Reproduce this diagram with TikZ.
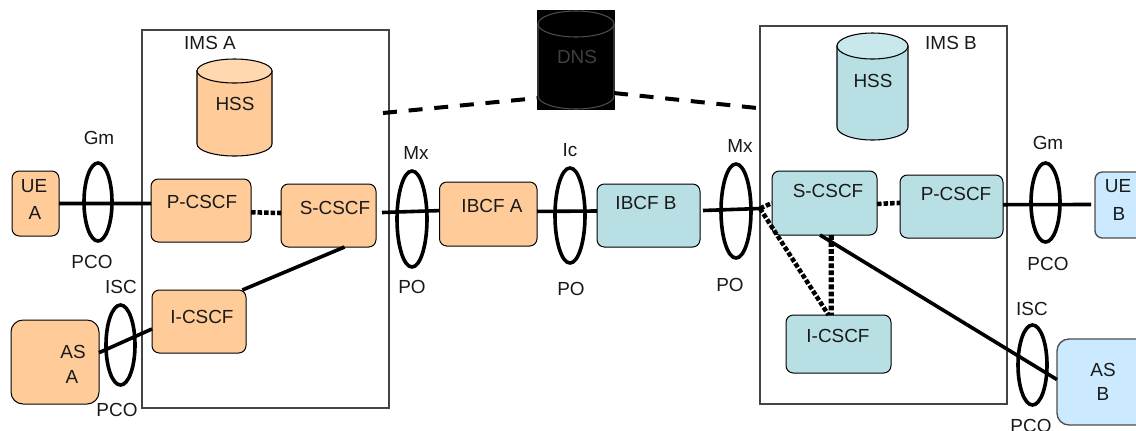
\documentclass[tikz,border=0pt]{standalone}
\usepackage{fontspec}
\setmainfont{Liberation Sans}
\usetikzlibrary{shapes.geometric}
\definecolor{org}{HTML}{FFCC99}
\definecolor{orgtop}{HTML}{FFD8B0}
\definecolor{teal}{HTML}{B8E0E4}
\definecolor{tealtop}{HTML}{C8E8EB}
\definecolor{sky}{HTML}{CCEAFF}
\definecolor{frm}{HTML}{444444}
\tikzset{
  x=0.75pt,y=-0.75pt,
  lbl/.style={font=\fontsize{14.2pt}{16pt}\selectfont,inner sep=0pt,text=black!90},
  rbox/.style={draw=black,line width=0.75pt,rounded corners=5.5pt,inner sep=0pt,outer sep=0pt},
  bigbox/.style={rbox,rounded corners=9pt},
  ims/.style={draw=frm,line width=0.8pt,inner sep=0pt,outer sep=0pt},
  ring/.style={ellipse,draw=black,line width=2.7pt,inner sep=0pt,outer sep=0pt},
  ghost/.style={inner sep=0pt,outer sep=0pt},
  link/.style={line width=2.7pt,draw=black},
  dots/.style={line width=3.4pt,draw=black,dash pattern=on 3.4pt off 1.5pt},
  dashlink/.style={line width=3pt,draw=black,dash pattern=on 10.5pt off 8.8pt}
}
% name, x0,y0,x1,y1, style
\newcommand\pxnode[6]{%
  \pgfmathsetmacro\cxx{(#2+#4)/2}\pgfmathsetmacro\cyy{(#3+#5)/2}%
  \pgfmathsetmacro\ww{(#4-#2)*0.75}\pgfmathsetmacro\hh{(#5-#3)*0.75}%
  \node[#6,minimum width=\ww pt,minimum height=\hh pt] (#1) at (\cxx,\cyy) {};}
% name, x0,y0,x1,y1, cap depth, body, top, stroke, stroke width
\newcommand\pxcyl[9]{%
  \pxnode{#1}{#2}{#3}{#4}{#5}{ghost}%
  \pgfmathsetmacro\rx{(#4-#2)*0.375}\pgfmathsetmacro\ry{#6*0.75}%
  \pgfmathsetmacro\ytop{#3+#6}\pgfmathsetmacro\ybot{#5-#6}%
  \filldraw[fill=#7,draw=#9,line width=0.8pt] (#2,\ytop) -- (#2,\ybot)
     arc[start angle=180,end angle=360,x radius=\rx pt,y radius=\ry pt] -- (#4,\ytop) -- cycle;%
  \pgfmathsetmacro\cxx{(#2+#4)/2}%
  \filldraw[fill=#8,draw=#9,line width=0.8pt] (\cxx,\ytop) ellipse[x radius=\rx pt,y radius=\ry pt];}
\begin{document}
\begin{tikzpicture}
\clip (0,0) rectangle (1136,430);
\useasboundingbox (0,0) rectangle (1136,430);
\fill[white] (0,0) rectangle (1136,430);
% frames
\pxnode{imsa}{142}{30}{389}{408}{ims}
\pxnode{imsb}{760}{26}{1007}{404}{ims}
% boxes
\pxnode{uea}{12}{171}{59}{236}{rbox,fill=org}
\pxnode{pa}{151}{179}{251}{242}{rbox,fill=org}
\pxnode{sa}{281}{184}{376}{247}{rbox,fill=org}
\pxnode{ia}{152}{290}{246}{353}{rbox,fill=org}
\pxnode{asa}{11}{320}{99}{404}{bigbox,fill=org}
\pxnode{iba}{439.5}{182}{537}{246}{rbox,fill=org}
\pxnode{ibb}{597}{184}{700}{247}{rbox,fill=teal}
\pxnode{sb}{772}{171}{877}{235}{rbox,fill=teal}
\pxnode{pb}{900}{175}{1003}{238}{rbox,fill=teal}
\pxnode{ib}{786}{315}{891}{373}{rbox,fill=teal}
\pxnode{ueb}{1095}{172}{1146}{238}{rbox,fill=sky,draw=black!70,line width=1pt}
\pxnode{asb}{1057}{339}{1150}{425}{bigbox,fill=sky,draw=black!70,line width=1pt}
% cylinders
\pxcyl{hssa}{197}{59}{272}{156}{12}{org}{orgtop}{black}
\pxcyl{hssb}{837}{33}{908}{140}{13}{teal}{tealtop}{black}
\fill[black] (537,10) rectangle (615,110);
\pxcyl{dns}{538}{11}{614}{109}{13}{black}{black}{black!70}
% free ends
\coordinate (mxa1) at (382,212.5);
\coordinate (mxb1) at (703,210.5);
\coordinate (mxb2) at (760,208.5);
\coordinate (ueb1) at (1091,204.5);
\coordinate (dnsl) at (383,113);
\coordinate (dnsr) at (757,108);
% connectors
\draw[link] (uea.east) -- (pa.172);
\draw[dots] (pa.-2.9) -- (sa.177);
\draw[link] (sa.-63.8) -- (ia.36.6);
\draw[link] (asa.12.8) -- (ia.189);
\draw[link] (mxa1) -- (iba.176.5);
\draw[link] (iba.3.5) -- (ibb.175);
\draw[link] (mxb1) -- (mxb2);
\draw[dots] (mxb2) -- (sb.west);
\draw[dots] (mxb2) -- (ib.109.9);
\draw[dots,line width=4pt,dash pattern=on 3.6pt off 1.7pt] (sb.-78.5) -- (ib.104.5);
\draw[link] (sb.-98) -- (asb.177);
\draw[dots] (sb.-1.6) -- (pb.176);
\draw[link] (pb.2.2) -- (ueb1);
\draw[dashlink] (dnsl) -- (dns.225.7);
\draw[dashlink] (dns.-41.9) -- (dnsr);
% rings
\pxnode{r1}{84}{163}{112}{241}{ring}
\pxnode{r2}{106}{305}{135}{385}{ring}
\pxnode{r3}{397}{171}{427}{267}{ring}
\pxnode{r4}{555}{168}{585}{263}{ring}
\pxnode{r5}{721}{164}{751}{258}{ring}
\pxnode{r6}{1031}{163}{1060}{242}{ring}
\pxnode{r7}{1018}{325}{1047}{405}{ring}
% labels
\node[lbl] (t1) at (210,43) {IMS A};
\node[lbl] (t2) at (951,43) {IMS B};
\node[lbl] (t3) at (235,104) {HSS};
\node[lbl] (t4) at (873,81) {HSS};
\node[lbl,text=black!75] (t5) at (577,57) {DNS};
\node[lbl] (t6) at (34,186) {UE};
\node[lbl] (t7) at (35,213) {A};
\node[lbl] (t8) at (202,202) {P-CSCF};
\node[lbl] (t9) at (335,208) {S-CSCF};
\node[lbl] (t10) at (202,317) {I-CSCF};
\node[lbl] (t11) at (73,352) {AS};
\node[lbl] (t12) at (72,377) {A};
\node[lbl] (t13) at (492,206) {IBCF A};
\node[lbl] (t14) at (646,203) {IBCF B};
\node[lbl] (t15) at (828,191) {S-CSCF};
\node[lbl] (t16) at (956,194) {P-CSCF};
\node[lbl] (t17) at (838,336) {I-CSCF};
\node[lbl] (t18) at (1118,186) {UE};
\node[lbl] (t19) at (1119,214) {B};
\node[lbl] (t20) at (1103,370) {AS};
\node[lbl] (t21) at (1103,394) {B};
\node[lbl] (t22) at (99,138) {Gm};
\node[lbl] (t23) at (92,262) {PCO};
\node[lbl] (t24) at (121,287) {ISC};
\node[lbl] (t25) at (117,410) {PCO};
\node[lbl] (t26) at (416,153) {Mx};
\node[lbl] (t27) at (412,287) {PO};
\node[lbl] (t28) at (570,150) {Ic};
\node[lbl] (t29) at (571,289) {PO};
\node[lbl] (t30) at (740,146) {Mx};
\node[lbl] (t31) at (730,285) {PO};
\node[lbl] (t32) at (1048,143) {Gm};
\node[lbl] (t33) at (1048,264) {PCO};
\node[lbl] (t34) at (1032,309) {ISC};
\node[lbl] (t35) at (1031,426) {PCO};
\end{tikzpicture}
\end{document}
